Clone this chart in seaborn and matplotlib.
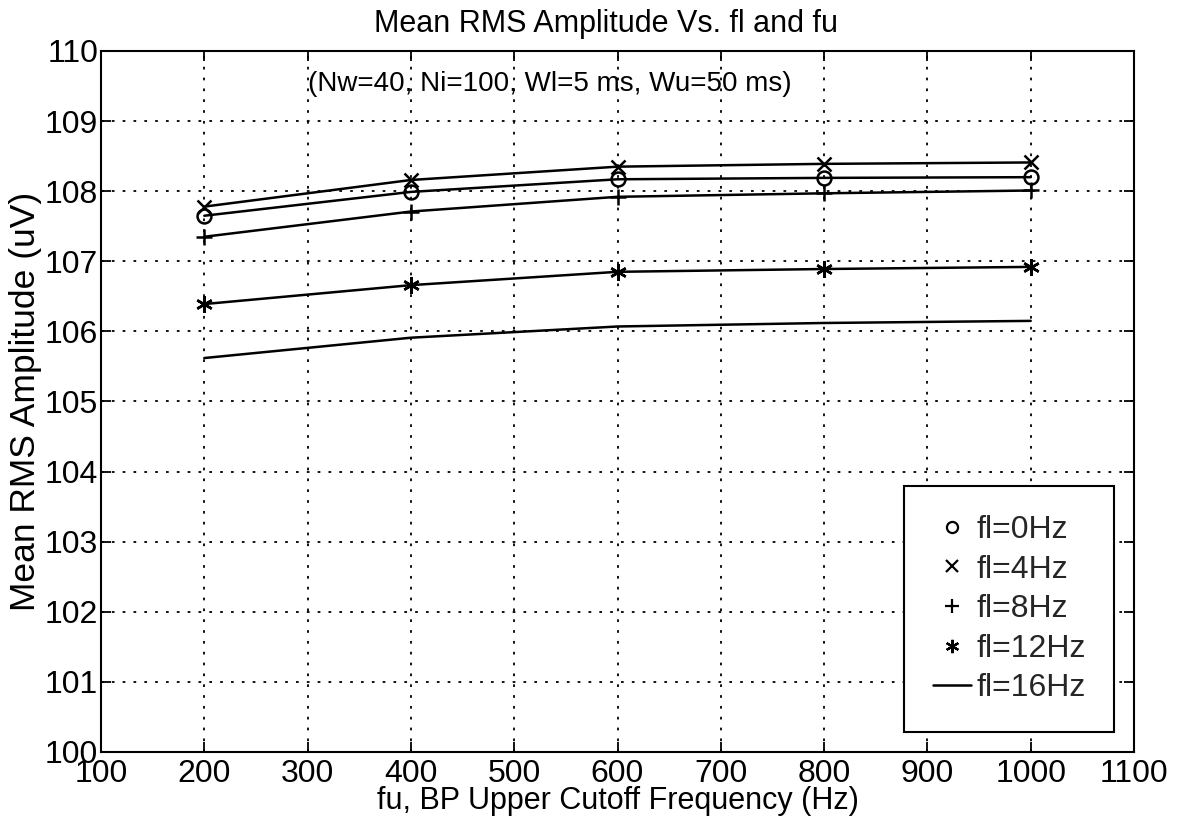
import matplotlib
matplotlib.use("Agg")
import matplotlib.pyplot as plt
from matplotlib.lines import Line2D
import seaborn as sns
import pandas as pd

fu = [200, 400, 600, 800, 1000]
fl0 = [107.65, 107.99, 108.17, 108.19, 108.20]
fl4 = [107.78, 108.16, 108.35, 108.39, 108.41]
fl8 = [107.35, 107.71, 107.92, 107.97, 108.01]
fl12 = [106.39, 106.66, 106.85, 106.89, 106.92]
fl16 = [105.62, 105.91, 106.07, 106.12, 106.15]
labels = ["fl=0Hz", "fl=4Hz", "fl=8Hz", "fl=12Hz", "fl=16Hz"]
series = [fl0, fl4, fl8, fl12, fl16]

sns.set_theme(style="white")
plt.rcParams["font.family"] = ["Liberation Sans", "DejaVu Sans"]
plt.rcParams["mathtext.default"] = "regular"

fig = plt.figure(figsize=(11.93, 8.19), dpi=100)
ax = fig.add_axes([101/1193, 1 - 752/819, (1134-101)/1193, (752-51)/819])

asterisk = (6, 2, 0)
markers = ["o", "x", "+", asterisk, None]
msizes = [10, 10, 12, 12, 0]

rows = []
for lab, vals in zip(labels, series):
    for x, y in zip(fu, vals):
        rows.append({"fu": x, "amp": y, "series": lab})
df = pd.DataFrame(rows)

for lab, mk, ms in zip(labels, markers, msizes):
    sub = df[df["series"] == lab]
    kw = dict(color="black", linewidth=1.8, legend=False)
    if mk is not None:
        kw.update(marker=mk, markersize=ms, markeredgewidth=1.8,
                  markerfacecolor="none", markeredgecolor="black")
    sns.lineplot(data=sub, x="fu", y="amp", ax=ax, **kw)

ax.set_xlim(100, 1100)
ax.set_ylim(100, 110)
ax.set_xticks(range(100, 1101, 100))
ax.set_yticks(range(100, 111, 1))
ax.grid(True, color="black", linestyle=(0, (1.5, 4.5)), linewidth=1.3)
for s in ax.spines.values():
    s.set_visible(True)
    s.set_color("black")
    s.set_linewidth(1.5)
ax.tick_params(direction="in", length=7, width=1.3, colors="black",
               labelsize=23, top=True, right=True, bottom=True, left=True)
ax.tick_params(axis="x", pad=5)
ax.tick_params(axis="y", pad=2)

ax.set_title("Mean RMS Amplitude Vs. fl and fu", fontsize=22, color="black",
             pad=14, x=0.489)
ax.set_xlabel("fu, BP Upper Cutoff Frequency (Hz)", fontsize=22, color="black", labelpad=-2)
ax.set_ylabel("Mean RMS Amplitude (uV)", fontsize=25.5, color="black", labelpad=2)
ax.text(300, 109.72, "(Nw=40, Ni=100, Wl=5 ms, Wu=50 ms)",
        ha="left", va="top", fontsize=20, color="black")

handles = []
for mk, ms in zip(markers, msizes):
    if mk is None:
        handles.append(Line2D([], [], color="black", linewidth=1.8))
    else:
        handles.append(Line2D([], [], color="black", linestyle="none", marker=mk,
                              markersize=ms * 0.8, markeredgewidth=1.6,
                              markerfacecolor="none"))
leg = ax.legend(handles, labels, loc="lower right", bbox_to_anchor=(0.981, 0.0285),
                fontsize=23, frameon=True, fancybox=False, edgecolor="black",
                framealpha=1, labelspacing=0.3, handlelength=1.2,
                handletextpad=0.15, borderpad=0.9, borderaxespad=0)
leg.get_frame().set_linewidth(1.5)

fig.savefig("out.png", dpi=100, facecolor="white")
